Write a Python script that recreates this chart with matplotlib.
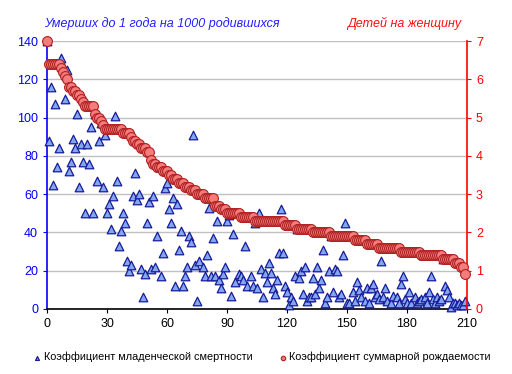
import numpy as np
import matplotlib.pyplot as plt

# infant mortality (per 1000 births), countries sorted by fertility
mortality = [140, 88, 116, 65, 107, 74, 84, 131, 127, 110,
             125, 72, 77, 89, 84, 102, 64, 86, 77, 50,
             86, 76, 95, 50, 102, 67, 88, 97, 64, 91,
             50, 55, 42, 59, 101, 67, 33, 41, 50, 45,
             25, 20, 23, 59, 71, 57, 60, 21, 6, 18,
             45, 56, 21, 59, 22, 38, 74, 17, 29, 63,
             66, 52, 45, 58, 12, 55, 31, 41, 12, 17,
             22, 38, 35, 91, 23, 4, 25, 60, 22, 17,
             28, 53, 17, 37, 17, 46, 15, 11, 18, 22,
             46, 49, 7, 39, 14, 50, 18, 17, 15, 33,
             12, 48, 17, 12, 45, 11, 50, 21, 6, 19,
             14, 24, 19, 11, 8, 15, 29, 52, 29, 12,
             9, 2, 6, 4, 17, 42, 16, 20, 8, 22,
             4, 6, 6, 16, 8, 22, 11, 15, 31, 3,
             6, 20, 38, 9, 21, 20, 6, 8, 28, 45,
             3, 3, 38, 9, 4, 14, 10, 6, 36, 4,
             11, 3, 11, 13, 6, 8, 5, 25, 6, 11,
             4, 32, 3, 7, 32, 6, 3, 13, 17, 5,
             3, 9, 3, 30, 6, 3, 4, 5, 28, 6,
             3, 9, 17, 5, 3, 6, 4, 5, 26, 12,
             10, 6, 1, 3, 3, 2, 3, 2, 2, 4]

# total fertility rate (children per woman)
fertility = [7.0, 6.4, 6.4, 6.4, 6.4, 6.4, 6.4, 6.3, 6.2, 6.1,
             6.0, 5.8, 5.8, 5.7, 5.7, 5.6, 5.6, 5.5, 5.4, 5.3,
             5.3, 5.3, 5.3, 5.3, 5.1, 5.0, 5.0, 4.9, 4.8, 4.7,
             4.7, 4.7, 4.7, 4.7, 4.7, 4.7, 4.7, 4.7, 4.6, 4.6,
             4.6, 4.6, 4.5, 4.4, 4.4, 4.3, 4.3, 4.2, 4.2, 4.2,
             4.1, 4.1, 3.9, 3.8, 3.8, 3.7, 3.7, 3.7, 3.6, 3.6,
             3.6, 3.5, 3.5, 3.4, 3.4, 3.4, 3.3, 3.3, 3.3, 3.2,
             3.2, 3.2, 3.1, 3.1, 3.1, 3.0, 3.0, 3.0, 3.0, 2.9,
             2.9, 2.9, 2.9, 2.9, 2.7, 2.7, 2.7, 2.6, 2.6, 2.6,
             2.5, 2.5, 2.5, 2.5, 2.5, 2.5, 2.5, 2.4, 2.4, 2.4,
             2.4, 2.4, 2.4, 2.4, 2.3, 2.3, 2.3, 2.3, 2.3, 2.3,
             2.3, 2.3, 2.3, 2.3, 2.3, 2.3, 2.3, 2.3, 2.3, 2.2,
             2.2, 2.2, 2.2, 2.2, 2.2, 2.1, 2.1, 2.1, 2.1, 2.1,
             2.1, 2.1, 2.1, 2.0, 2.0, 2.0, 2.0, 2.0, 2.0, 2.0,
             2.0, 2.0, 1.9, 1.9, 1.9, 1.9, 1.9, 1.9, 1.9, 1.9,
             1.9, 1.9, 1.9, 1.9, 1.8, 1.8, 1.8, 1.8, 1.8, 1.8,
             1.7, 1.7, 1.7, 1.7, 1.7, 1.7, 1.6, 1.6, 1.6, 1.6,
             1.6, 1.6, 1.6, 1.6, 1.6, 1.6, 1.6, 1.5, 1.5, 1.5,
             1.5, 1.5, 1.5, 1.5, 1.5, 1.5, 1.5, 1.4, 1.4, 1.4,
             1.4, 1.4, 1.4, 1.4, 1.4, 1.4, 1.4, 1.4, 1.3, 1.3,
             1.3, 1.3, 1.3, 1.3, 1.2, 1.2, 1.2, 1.1, 1.1, 0.9]

x_ticks = [0, 30, 60, 90, 120, 150, 180, 210]
left_ticks = [0, 20, 40, 60, 80, 100, 120, 140]
right_ticks = [0, 1, 2, 3, 4, 5, 6, 7]

plt.rcParams['font.family'] = ['Liberation Sans', 'DejaVu Sans']

idx = np.arange(len(mortality))

fig = plt.figure(figsize=(5.12, 3.74), dpi=100)
ax = fig.add_axes([0.092, 0.174, 0.820, 0.716])

ax.scatter(idx, mortality, marker='^', s=38, facecolor='#7fa8ee',
           edgecolor='#1a1a9a', linewidth=0.9, zorder=3, clip_on=False,
           label='Коэффициент младенческой смертности')
ax.set_xlim(0, 210)
ax.set_ylim(0, 140)
ax.set_xticks(x_ticks)
ax.set_yticks(left_ticks)
ax.grid(axis='y', color='#c0c0c0', linewidth=1)
ax.set_axisbelow(True)
ax.tick_params(axis='y', colors='#0000ff', labelsize=9, length=3, direction='out')
ax.tick_params(axis='x', colors='black', labelsize=9, length=3, direction='out')
ax.spines['left'].set_color('#0000ff')
ax.spines['left'].set_linewidth(1.2)
ax.spines['bottom'].set_color('black')
ax.spines['bottom'].set_linewidth(1.2)
ax.spines['top'].set_visible(False)
ax.spines['right'].set_visible(False)

ax2 = ax.twinx()
ax2.scatter(idx, fertility, marker='o', s=50, facecolor='#f47c7c',
            edgecolor='#b02020', linewidth=0.8, zorder=4, clip_on=False,
            label='Коэффициент суммарной рождаемости')
ax2.set_ylim(0, 7)
ax2.set_yticks(right_ticks)
ax2.tick_params(axis='y', colors='#ff0000', labelsize=9, length=3, direction='out')
ax2.spines['right'].set_color('#ff0000')
ax2.spines['right'].set_linewidth(1.2)
for s in ['left', 'top', 'bottom']:
    ax2.spines[s].set_visible(False)

fig.text(0.315, 0.937, 'Умерших до 1 года на 1000 родившихся', color='#2020ff',
         fontsize=9, style='italic', ha='center', va='center')
fig.text(0.79, 0.937, 'Детей на женщину', color='#ff1010',
         fontsize=9, style='italic', ha='center', va='center')

h1, l1 = ax.get_legend_handles_labels()
h2, l2 = ax2.get_legend_handles_labels()
fig.legend(h1 + h2, l1 + l2, loc='center', bbox_to_anchor=(0.51, 0.045), ncol=2,
           frameon=False, fontsize=7.8, markerscale=0.45, handletextpad=0.1,
           columnspacing=2.3, handlelength=1)

fig.savefig('out.png', dpi=100)
